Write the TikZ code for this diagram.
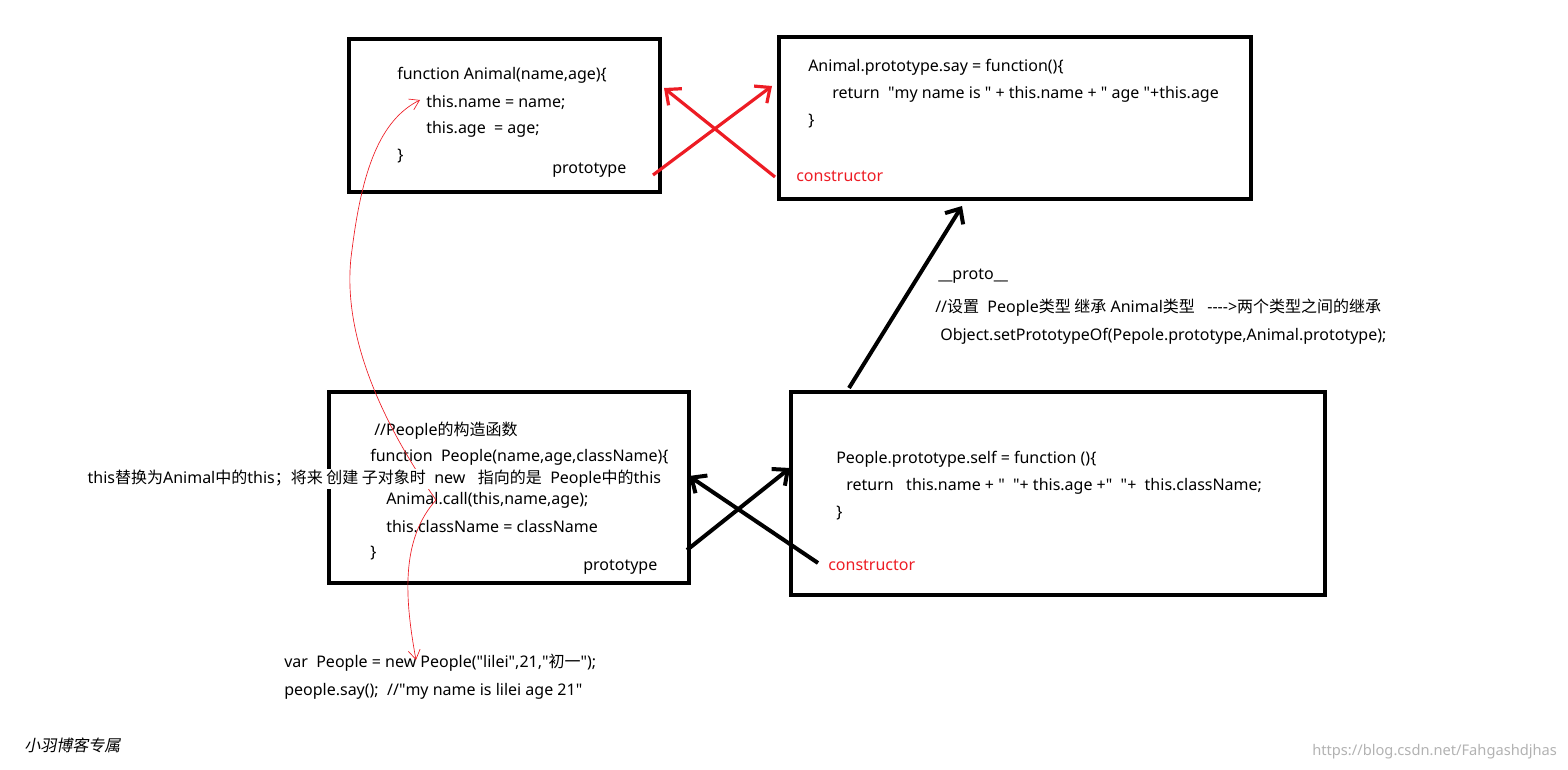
\documentclass[tikz,border=0pt]{standalone}
\usepackage{fontspec}
\setmainfont{Noto Sans}
\newfontfamily\cjk{Noto Sans CJK SC}
\newfontfamily\cjkit{Noto Sans CJK SC}[FakeSlant=0.2]
\usetikzlibrary{arrows.meta}
\definecolor{myred}{RGB}{237,28,36}
\newcommand{\qq}{\textquotedbl}
\begin{document}
\begin{tikzpicture}[x=0.75pt,y=-0.75pt,
  box/.style={draw,line width=3pt},
  t/.style={anchor=west,inner sep=0pt,font=\fontsize{12}{14}\selectfont},
  rt/.style={t,text=myred},
  rarr/.style={draw=myred,line width=2.4pt,-{Straight Barb[length=9pt,width=16pt,line width=2.4pt]}},
  barr/.style={draw,line width=3pt,-{Straight Barb[length=9pt,width=16pt,line width=3pt]}},
  thin/.style={draw=myred,line width=0.5pt,-{Straight Barb[length=7pt,width=9pt]}}]
\useasboundingbox (0,0) rectangle (1568,770);
\draw[box] (349,39) rectangle (660,192);
\draw[box] (779,37) rectangle (1251,199);
\draw[box] (329,392) rectangle (689,583);
\draw[box] (791,392) rectangle (1325,595);
% box A
\node[t] at (397,75) {function Animal(name,age)\{};
\node[t] (an) at (426,102) {this.name = name;};
\node[t] at (426,129) {this.age ~= age;};
\node[t] at (397,156) {\}};
\node[t] (ap) at (552,170) {prototype};
% box B
\node[t] at (808,67) {Animal.prototype.say = function()\{};
\node[t] at (832,94) {return ~\qq my name is \qq{} + this.name + \qq{} age \qq+this.age};
\node[t] at (808,121) {\}};
\node[rt] (bc) at (796,176) {constructor};
% middle text
\node[t] at (938,276) {\_\_proto\_\_};
\node[t] at (935,308) {//{\cjk 设置} ~People{\cjk 类型 继承} Animal{\cjk 类型} ~~-{}-{}-{}->{\cjk 两个类型之间的继承}};
\node[t] at (940,336) {Object.setPrototypeOf(Pepole.prototype,Animal.prototype);};
% box C
\node[t] at (374,431) {//People{\cjk 的构造函数}};
\node[t] at (370,457) {function ~People(name,age,className)\{};
\node[t] (call) at (386,500) {Animal.call(this,name,age);};
\node[t] at (386,527) {this.className = className};
\node[t] at (370,553) {\}};
\node[t] (cp) at (583,567) {prototype};
% box D
\node[t] at (836,459) {People.prototype.self = function ()\{};
\node[t] at (846,486) {return ~~this.name + \qq{} ~\qq+ this.age +\qq{} ~\qq+ ~this.className;};
\node[t] at (836,513) {\}};
\node[rt] (dc) at (828,565) {constructor};
% bottom
\node[t] (var) at (284,663) {var ~People = new People(\qq lilei\qq,21,\qq{\cjk 初一}\qq);};
\node[t] at (284,691) {people.say(); ~//\qq my name is lilei age 21\qq};
\node[t,font=\fontsize{12}{14}\cjkit] at (24,745) {小羽博客专属};
\node[t,text=black!30,font=\fontsize{11}{13}\selectfont] at (1312,752) {https://blog.csdn.net/Fahgashdjhas};
% arrows
\coordinate (r1s) at (653,175); \coordinate (r1e) at (772,86);
\coordinate (r2s) at (775,177); \coordinate (r2e) at (664,88);
\draw[rarr] (r1s) -- (r1e);
\draw[rarr] (r2s) -- (r2e);
\coordinate (b1s) at (687,550); \coordinate (b1e) at (790,468);
\coordinate (b2s) at (818,563); \coordinate (b2e) at (689,476);
\coordinate (b3s) at (849,388); \coordinate (b3e) at (962,206);
\draw[barr] (b1s) -- (b1e);
\draw[barr] (b2s) -- (b2e);
\draw[barr] (b3s) -- (b3e);
% red thin curves
\coordinate (k) at (436,500);
\coordinate (top) at (420,100);
\coordinate (bot) at (416,660);
\draw[thin] (k) .. controls (380,420) and (340,330) .. (352,250) .. controls (362,170) and (380,120) .. (top);
\draw[thin] (k) .. controls (400,540) and (405,600) .. (bot);
\node[t,fill=white,inner sep=1pt] at (86,479) {this{\cjk 替换为}Animal{\cjk 中的}this{\cjk ；将来 创建 子对象时} ~new ~~{\cjk 指向的是} ~People{\cjk 中的}this};
\end{tikzpicture}
\end{document}
